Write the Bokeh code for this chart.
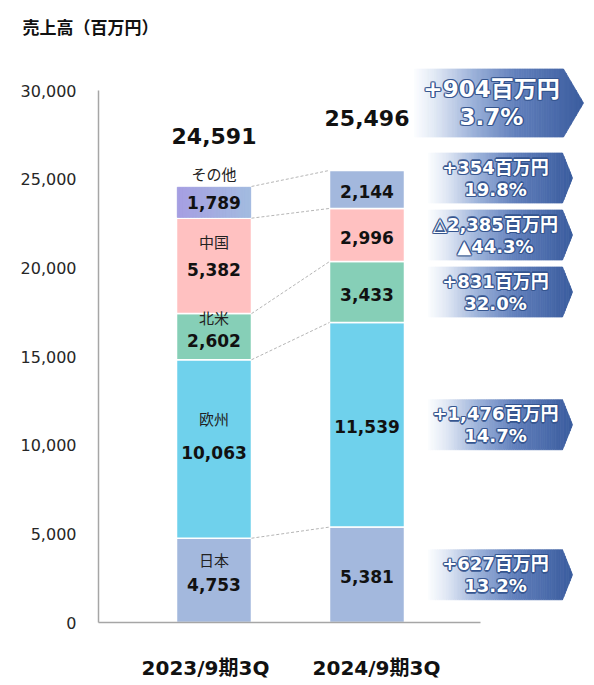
from bokeh.plotting import figure
from bokeh.models import Range1d, FixedTicker, ColumnDataSource
from bokeh.core.properties import value
from bokeh.embed import file_html
from bokeh.resources import INLINE

# ---------------- data ----------------
periods = ["2023/9期3Q", "2024/9期3Q"]
regions = ["日本", "欧州", "北米", "中国", "その他"]
sales_2023 = [4753, 10063, 2602, 5382, 1789]
sales_2024 = [5381, 11539, 3433, 2996, 2144]
totals = [24591, 25496]
diff_labels = ["+627百万円", "+1,476百万円", "+831百万円", "△2,385百万円", "+354百万円"]
pct_labels = ["13.2%", "14.7%", "32.0%", "▲44.3%", "19.8%"]
total_diff_label = "+904百万円"
total_pct_label = "3.7%"
y_ticks = [0, 5000, 10000, 15000, 20000, 25000, 30000]
title_text = "売上高（百万円）"

# ---------------- styles ----------------
colors_2023 = ["#a3b8dd", "#6fd1ec", "#86cfb7", "#ffc1c1", "#a5ade1"]
colors_2024 = ["#a3b8dd", "#6fd1ec", "#86cfb7", "#ffc1c1", "#a3b8dd"]
other_grad = ((166, 158, 226), (163, 188, 224))   # left -> right tint of 2023 その他
NUM_FONT = value("DejaVu Sans, Noto Sans CJK JP")
JP_FONT = value("Noto Sans CJK JP")

W, H = 592, 683
FRAME_TOP = 40
PXU = 153.0            # px per x unit
PYU = 532.0 / 30000.0  # px per y unit
BAR_W = 75.0 / PXU
def fx(px):
    return (px - 213.5) / PXU
def fy(py):
    return (622.0 - py) / PYU
def py_of(v):
    return 622.0 - v * PYU
def hexc(c):
    return "#%02x%02x%02x" % tuple(int(round(v)) for v in c)

x_start, x_end = fx(98), fx(590)
y_end = fy(FRAME_TOP)

p = figure(width=W, height=H, output_backend="svg", toolbar_location=None,
           x_range=Range1d(x_start, x_end), y_range=Range1d(0, y_end),
           min_border_left=98, min_border_right=W - 590, min_border_top=FRAME_TOP,
           min_border_bottom=H - 622)
p.outline_line_color = None
p.xgrid.grid_line_color = None
p.ygrid.grid_line_color = None
p.background_fill_color = "white"
p.border_fill_color = "white"

p.title.text = title_text
p.title.align = "left"
p.title.offset = -76
p.title.standoff = 4
p.title.text_font = "Noto Sans CJK JP"
p.title.text_font_style = "bold"
p.title.text_font_size = "17px"
p.title.text_color = "#111111"

# y axis
p.yaxis.ticker = FixedTicker(ticks=y_ticks)
p.yaxis.major_label_overrides = {t: f"{t:,}" for t in y_ticks}
p.yaxis.bounds = (0, y_ticks[-1])
p.yaxis.axis_line_color = "#a6a6a6"
p.yaxis.axis_line_width = 1.5
p.yaxis.major_tick_line_color = None
p.yaxis.minor_tick_line_color = None
p.yaxis.major_label_text_font = "DejaVu Sans"
p.yaxis.major_label_text_font_size = "16px"
p.yaxis.major_label_text_color = "#262626"
p.yaxis.major_label_standoff = 16

# x axis: period labels sit slightly outward of the bar centres
lab_pos = [round(fx(205), 4), round(fx(376), 4)]
p.xaxis.ticker = FixedTicker(ticks=lab_pos)
p.xaxis.major_label_overrides = {lab_pos[0]: periods[0], lab_pos[1]: periods[1]}
p.xaxis.bounds = (x_start, fx(480))
p.xaxis.axis_line_color = "#a6a6a6"
p.xaxis.axis_line_width = 1.5
p.xaxis.major_tick_line_color = None
p.xaxis.minor_tick_line_color = None
p.xaxis.major_label_text_font = "DejaVu Sans, Noto Sans CJK JP"
p.xaxis.major_label_text_font_style = "bold"
p.xaxis.major_label_text_font_size = "20px"
p.xaxis.major_label_text_color = "#111111"
p.xaxis.major_label_standoff = 27

# ---------------- stacked bars ----------------
def cumulate(vals):
    b, t, acc = [], [], 0
    for v in vals:
        b.append(acc)
        acc += v
        t.append(acc)
    return b, t

b23, t23 = cumulate(sales_2023)
b24, t24 = cumulate(sales_2024)

src = ColumnDataSource(dict(
    x=[0] * len(regions) + [1] * len(regions),
    bottom=b23 + b24, top=t23 + t24,
    color=colors_2023 + colors_2024))
p.vbar(x="x", bottom="bottom", top="top", width=BAR_W, source=src,
       fill_color="color", line_color="white", line_width=1.5)

# horizontal tint across the 2023 その他 segment
NG = 24
gl, gr, gc = [], [], []
for k in range(NG):
    a = -BAR_W / 2 + 0.75 / PXU + (BAR_W - 1.5 / PXU) * k / NG
    b = -BAR_W / 2 + 0.75 / PXU + (BAR_W - 1.5 / PXU) * (k + 1) / NG
    f = (k + 0.5) / NG
    gl.append(a); gr.append(b)
    gc.append(hexc([c0 + (c1 - c0) * f for c0, c1 in zip(*other_grad)]))
p.quad(left=gl, right=gr, bottom=[b23[4] + 0.75 / PYU] * NG, top=[t23[4] - 0.75 / PYU] * NG,
       fill_color=gc, line_color=gc, line_width=0.6)

# dashed connectors between matching segment boundaries
p.segment(x0=[BAR_W / 2] * len(t23), y0=t23, x1=[1 - BAR_W / 2] * len(t24), y1=t24,
          line_color="#b5b5b5", line_width=1, line_dash="3 2")

# ---------------- labels in bars ----------------
fmt = lambda v: f"{v:,}"
vx, vy, vt = [], [], []
nx, ny, nt = [], [], []
for i, r in enumerate(regions):
    mid_px = py_of((b23[i] + t23[i]) / 2)
    seg_h = (t23[i] - b23[i]) * PYU
    if seg_h < 40:
        vx.append(0); vy.append(fy(mid_px)); vt.append(fmt(sales_2023[i]))
        nx.append(0); ny.append(fy(py_of(t23[i]) - 13)); nt.append(r)
    else:
        sp = min(34.0, max(23.0, 0.3 * seg_h))
        v_px = mid_px + 4
        vx.append(0); vy.append(fy(v_px)); vt.append(fmt(sales_2023[i]))
        nx.append(0); ny.append(fy(v_px - sp)); nt.append(r)
for i, r in enumerate(regions):
    mid_px = py_of((b24[i] + t24[i]) / 2)
    vx.append(1); vy.append(fy(mid_px + 2)); vt.append(fmt(sales_2024[i]))

p.text(x=vx, y=vy, text=vt, text_align="center", text_baseline="middle",
       text_font=NUM_FONT, text_font_style="bold", text_font_size="17px",
       text_color="#111111")
p.text(x=nx, y=ny, text=nt, text_align="center", text_baseline="middle",
       text_font=JP_FONT, text_font_size="15px", text_color="#222222")

# totals
p.text(x=[0, 1], y=[fy(py_of(t23[-1]) - 50), fy(py_of(t24[-1]) - 52)],
       text=[fmt(v) for v in totals], text_align="center", text_baseline="middle",
       text_font=NUM_FONT, text_font_style="bold", text_font_size="22px",
       text_color="#111111")

# ---------------- gradient chevrons ----------------
stops = [(0.0, (252, 253, 255)), (0.12, (226, 233, 245)), (0.35, (155, 177, 217)),
         (0.6, (98, 128, 188)), (1.0, (58, 92, 158))]

def grad(t):
    for (t0, c0), (t1, c1) in zip(stops[:-1], stops[1:]):
        if t <= t1:
            f = (t - t0) / (t1 - t0)
            return hexc([a + (b - a) * f for a, b in zip(c0, c1)])
    return hexc(stops[-1][1])

xs_all, ys_all, cs_all = [], [], []

def chevron(xl, xb, xt, yc, hh, n_body=60, n_tip=8):
    bnds = [xl + (xb - xl) * k / n_body for k in range(n_body + 1)]
    bnds += [xb + (xt - xb) * k / n_tip for k in range(1, n_tip + 1)]
    def half(x):
        return hh if x <= xb else hh * (xt - x) / (xt - xb)
    for a, b in zip(bnds[:-1], bnds[1:]):
        xs_all.append([fx(a), fx(b), fx(b), fx(a)])
        ys_all.append([fy(yc - half(a)), fy(yc - half(b)), fy(yc + half(b)), fy(yc + half(a))])
        cs_all.append(grad(((a + b) / 2 - xl) / (xt - xl)))

SMALL_H, GAP = 50.0, 7.0
centres = []
for i in range(len(regions)):
    m = py_of((b24[i] + t24[i]) / 2)
    if centres:
        m = min(m, centres[-1] - SMALL_H - GAP)
    centres.append(m)
big_c = centres[-1] - SMALL_H / 2 - 16 - 34

for c in centres:
    chevron(428, 562, 572, c, SMALL_H / 2)
chevron(414, 563, 583, big_c, 34)

p.patches(xs=xs_all, ys=ys_all, fill_color=cs_all, line_color=cs_all, line_width=0.8)

tx, ty, tt = [], [], []
for i, c in enumerate(centres):
    tx += [fx(495), fx(495)]
    ty += [fy(c - 11), fy(c + 11)]
    tt += [diff_labels[i], pct_labels[i]]
bx = [fx(491), fx(491)]
by = [fy(big_c - 14), fy(big_c + 14)]
btxt = [total_diff_label, total_pct_label]

# glow layer underneath (offset copies), white text on top
GLOW = "#34548e"
offs = [(-1.3, 0), (1.3, 0), (0, -1.3), (0, 1.3), (-1, -1), (1, 1), (-1, 1), (1, -1)]
for (xx, yy, ttt, fs) in [(tx, ty, tt, "18px"), (bx, by, btxt, "23px")]:
    for ox, oy in offs:
        p.text(x=xx, y=yy, text=ttt, text_align="center", text_baseline="middle",
               x_offset=ox, y_offset=oy,
               text_font=NUM_FONT, text_font_style="bold", text_font_size=fs,
               text_color=GLOW, text_alpha=0.8)
    p.text(x=xx, y=yy, text=ttt, text_align="center", text_baseline="middle",
           text_font=NUM_FONT, text_font_style="bold", text_font_size=fs,
           text_color="white")

open("out.html", "w").write(file_html(p, INLINE))
